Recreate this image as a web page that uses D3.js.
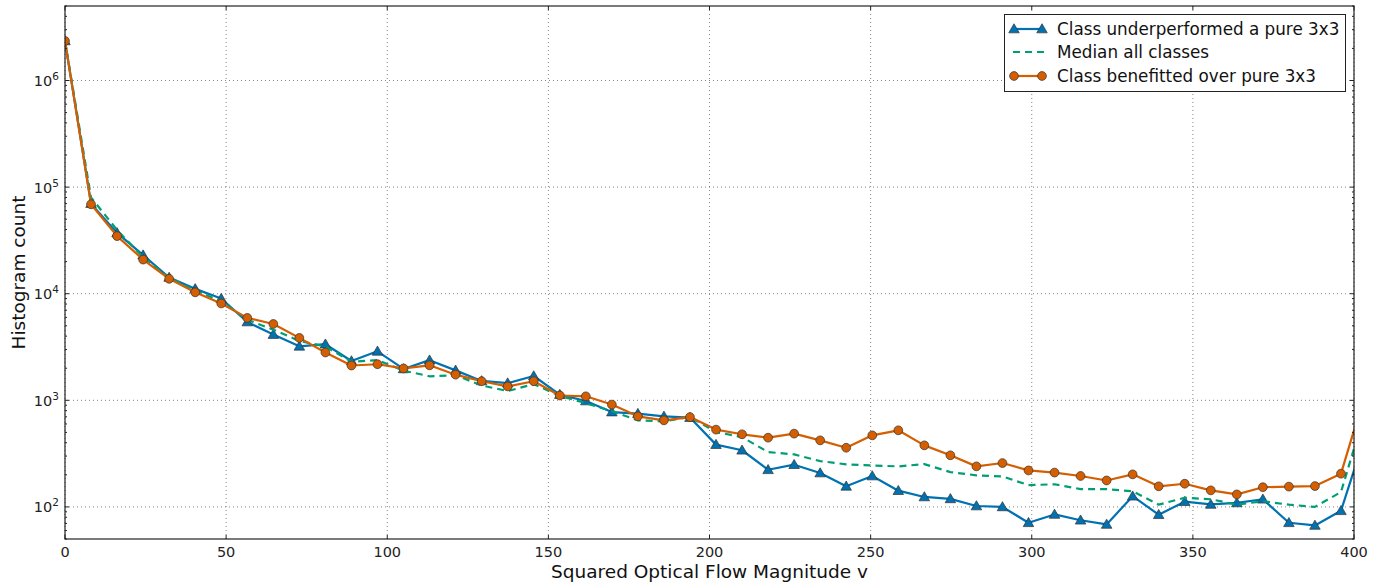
<!DOCTYPE html>
<html>
<head>
<meta charset="utf-8">
<script src="https://cdn.jsdelivr.net/npm/d3@7"></script>
<style>
  body { margin: 0; background: #fff; }
  svg { font-family: "DejaVu Sans", sans-serif; }
</style>
</head>
<body>
<svg id="chart" width="1379" height="582"></svg>
<script>
// bin positions (squared flow magnitude)
var binPos = [0, 8.08, 16.16, 24.24, 32.32, 40.40, 48.48, 56.57, 64.65, 72.73,
  80.81, 88.89, 96.97, 105.05, 113.13, 121.21, 129.29, 137.37, 145.45, 153.54,
  161.62, 169.70, 177.78, 185.86, 193.94, 202.02, 210.10, 218.18, 226.26, 234.34,
  242.42, 250.51, 258.59, 266.67, 274.75, 282.83, 290.91, 298.99, 307.07, 315.15,
  323.23, 331.31, 339.39, 347.47, 355.56, 363.64, 371.72, 379.80, 387.88, 395.96,
  404.04];

var underperformed = [2.35e6, 7.0e4, 3.72e4, 2.3e4, 1.42e4, 1.11e4, 9000, 5430, 4140, 3210,
  3360, 2340, 2880, 1970, 2380, 1910, 1520, 1450, 1690, 1130,
  985, 776, 750, 707, 689, 384, 340, 223, 249, 208,
  156, 195, 142, 124, 119, 102, 100, 71, 85, 75,
  68.5, 126, 84.5, 112, 105.5, 109, 118, 71, 67, 92,
  527];

var medianAll = [2.35e6, 8.0e4, 3.96e4, 2.2e4, 1.42e4, 1.07e4, 8500, 5700, 4600, 3600,
  3200, 2300, 2380, 1900, 1680, 1720, 1380, 1220, 1420, 1100,
  940, 791, 649, 635, 700, 504, 452, 327, 311, 269,
  251, 245, 240, 252, 212, 198, 193, 160, 163, 147,
  147, 140, 105, 122, 118, 105, 113, 105, 100, 138,
  897];

var benefitted = [2.35e6, 6.9e4, 3.47e4, 2.09e4, 1.38e4, 1.03e4, 8100, 5930, 5200, 3850,
  2810, 2120, 2180, 1990, 2130, 1740, 1510, 1350, 1510, 1110,
  1090, 912, 707, 649, 696, 531, 480, 446, 487, 421,
  359, 469, 523, 378, 305, 240, 258, 220, 210, 195,
  177, 202, 156, 165, 143, 131, 153, 155, 157, 205,
  1330];

var xTicks = [0, 50, 100, 150, 200, 250, 300, 350, 400];
var yDecades = [2, 3, 4, 5, 6];

var seriesList = [
  {name: 'Class underperformed a pure 3x3', values: underperformed, color: '#0072B2', marker: 'triangle', dash: null},
  {name: 'Median all classes', values: medianAll, color: '#009E73', marker: null, dash: '7,5'},
  {name: 'Class benefitted over pure 3x3', values: benefitted, color: '#D55E00', marker: 'circle', dash: null}
];

var margin = {left: 65, right: 25, top: 6, bottom: 43};
var width = 1379, height = 582;

var svg = d3.select('#chart');

var x = d3.scaleLinear().domain([0, 400]).range([margin.left, width - margin.right]);
var y = d3.scaleLog().domain([50, 5e6]).range([height - margin.bottom, margin.top]);

var x0 = x.range()[0], x1 = x.range()[1], y0 = y.range()[0], y1 = y.range()[1];

svg.append('clipPath').attr('id', 'plotClip')
  .append('rect').attr('x', x0).attr('y', y1).attr('width', x1 - x0).attr('height', y0 - y1);

// grid
var grid = svg.append('g').attr('class', 'grid');
xTicks.forEach(function(t) {
  grid.append('line').attr('x1', x(t)).attr('x2', x(t)).attr('y1', y0).attr('y2', y1)
    .attr('stroke', '#666').attr('stroke-width', 0.8).attr('stroke-dasharray', '1,3');
});
yDecades.forEach(function(d) {
  var v = Math.pow(10, d);
  grid.append('line').attr('x1', x0).attr('x2', x1).attr('y1', y(v)).attr('y2', y(v))
    .attr('stroke', '#666').attr('stroke-width', 0.8).attr('stroke-dasharray', '1,3');
});

// series
var plot = svg.append('g').attr('clip-path', 'url(#plotClip)');
var line = d3.line()
  .x(function(d, i) { return x(binPos[i]); })
  .y(function(d) { return y(d); });

var triangle = d3.symbol().type(d3.symbolTriangle).size(48);

seriesList.forEach(function(s) {
  var path = plot.append('path')
    .datum(s.values)
    .attr('fill', 'none')
    .attr('stroke', s.color)
    .attr('stroke-width', 2.2)
    .attr('stroke-linejoin', 'round')
    .attr('d', line);
  if (s.dash) path.attr('stroke-dasharray', s.dash);

  if (s.marker === 'circle') {
    plot.selectAll(null).data(s.values).enter()
      .append('circle')
      .attr('cx', function(d, i) { return x(binPos[i]); })
      .attr('cy', function(d) { return y(d); })
      .attr('r', 4.4)
      .attr('fill', s.color)
      .attr('stroke', '#333')
      .attr('stroke-width', 0.7);
  } else if (s.marker === 'triangle') {
    plot.selectAll(null).data(s.values).enter()
      .append('path')
      .attr('d', triangle)
      .attr('transform', function(d, i) { return 'translate(' + x(binPos[i]) + ',' + (y(d) + 0.8) + ')'; })
      .attr('fill', s.color)
      .attr('stroke', '#333')
      .attr('stroke-width', 0.7);
  }
});

// ticks (inside, all four sides)
var ticks = svg.append('g').attr('stroke', '#222').attr('stroke-width', 1);
xTicks.forEach(function(t) {
  ticks.append('line').attr('x1', x(t)).attr('x2', x(t)).attr('y1', y0).attr('y2', y0 - 4);
  ticks.append('line').attr('x1', x(t)).attr('x2', x(t)).attr('y1', y1).attr('y2', y1 + 4);
});
for (var d = 1; d <= 6; d++) {
  for (var m = 1; m <= 9; m++) {
    var v = m * Math.pow(10, d);
    if (v < 50 || v > 5e6) continue;
    var len = m === 1 ? 4 : 2;
    ticks.append('line').attr('x1', x0).attr('x2', x0 + len).attr('y1', y(v)).attr('y2', y(v));
    ticks.append('line').attr('x1', x1).attr('x2', x1 - len).attr('y1', y(v)).attr('y2', y(v));
  }
}

// frame
svg.append('rect').attr('x', x0).attr('y', y1).attr('width', x1 - x0).attr('height', y0 - y1)
  .attr('fill', 'none').attr('stroke', '#222').attr('stroke-width', 1.2);

// tick labels
svg.append('g').selectAll('text').data(xTicks).enter()
  .append('text')
  .attr('x', function(t) { return x(t); })
  .attr('y', y0 + 18)
  .attr('text-anchor', 'middle')
  .attr('font-size', 14.5)
  .attr('fill', '#222')
  .text(function(t) { return t; });

var yl = svg.append('g').selectAll('text').data(yDecades).enter()
  .append('text')
  .attr('x', 59)
  .attr('y', function(d) { return y(Math.pow(10, d)) + 5.5; })
  .attr('text-anchor', 'end')
  .attr('font-size', 14.5)
  .attr('fill', '#222');
yl.append('tspan').text('10');
yl.append('tspan').attr('dy', -6).attr('font-size', 10.5).text(function(d) { return d; });

// axis titles
svg.append('text')
  .attr('x', (x0 + x1) / 2)
  .attr('y', 578)
  .attr('text-anchor', 'middle')
  .attr('font-size', 18.5)
  .attr('fill', '#111')
  .text('Squared Optical Flow Magnitude v');

svg.append('text')
  .attr('transform', 'translate(25,' + ((y0 + y1) / 2) + ') rotate(-90)')
  .attr('text-anchor', 'middle')
  .attr('font-size', 18.5)
  .attr('fill', '#111')
  .text('Histogram count');

// legend
var lg = svg.append('g');
lg.append('rect').attr('x', 1004.5).attr('y', 14.5).attr('width', 341).attr('height', 77)
  .attr('fill', '#fff').attr('stroke', '#222').attr('stroke-width', 1);
var rowY = [29, 52, 76];
seriesList.forEach(function(s, i) {
  var ry = rowY[i];
  var hl = lg.append('line').attr('x1', 1014).attr('x2', 1042).attr('y1', ry).attr('y2', ry)
    .attr('stroke', s.color).attr('stroke-width', 2.2);
  if (s.dash) hl.attr('stroke-dasharray', '7,5').attr('x1', 1013).attr('x2', 1044);
  [1014, 1042].forEach(function(mx) {
    if (s.marker === 'circle') {
      lg.append('circle').attr('cx', mx).attr('cy', ry).attr('r', 4.4)
        .attr('fill', s.color).attr('stroke', '#333').attr('stroke-width', 0.7);
    } else if (s.marker === 'triangle') {
      lg.append('path').attr('d', triangle).attr('transform', 'translate(' + mx + ',' + (ry + 0.8) + ')')
        .attr('fill', s.color).attr('stroke', '#333').attr('stroke-width', 0.7);
    }
  });
  lg.append('text').attr('x', 1057).attr('y', ry + 6).attr('font-size', 16.8).attr('fill', '#111')
    .text(s.name);
});
</script>
</body>
</html>
